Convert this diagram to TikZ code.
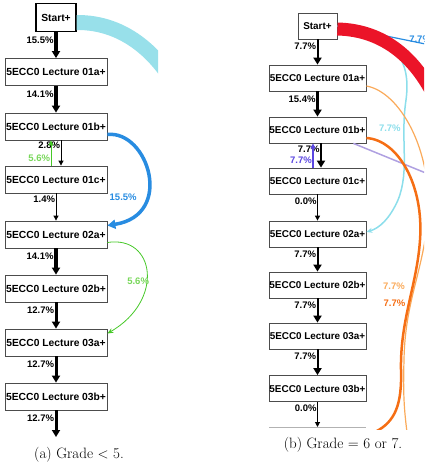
\documentclass[tikz,border=0pt]{standalone}
\usepackage{fontspec}
\setsansfont{Liberation Sans}
\usetikzlibrary{arrows.meta,calc}
\definecolor{skipcyan}{RGB}{152,224,234}
\definecolor{loopblue}{RGB}{40,140,225}
\definecolor{loopgreen}{RGB}{70,200,40}
\definecolor{lblgreen}{RGB}{120,215,90}
\definecolor{skipred}{RGB}{235,20,40}
\definecolor{thincyan}{RGB}{140,222,235}
\definecolor{lightorange}{RGB}{250,170,90}
\definecolor{darkorange}{RGB}{245,110,20}
\definecolor{lightpurple}{RGB}{175,160,225}
\definecolor{backviolet}{RGB}{90,70,225}
\tikzset{
  act/.style={draw=gray!60!black, fill=white, line width=0.8pt, minimum width=102pt, minimum height=27pt, inner sep=0pt, font=\sffamily\bfseries\fontsize{10.3}{12}\selectfont},
  actb/.style={act, minimum width=97pt, minimum height=26pt, font=\sffamily\bfseries\fontsize{9.9}{11}\selectfont},
  startbox/.style={minimum width=40pt, minimum height=28pt},
  pct/.style={font=\sffamily\bfseries\fontsize{9.5}{11}\selectfont, inner sep=0.5pt},
  flow/.style={-{Triangle[length=7pt,width=8pt]}},
  thinflow/.style={-{Triangle[length=5pt,width=5pt]}},
  capt/.style={font=\fontsize{15}{18}\selectfont, inner sep=0pt}
}
\begin{document}
\begin{tikzpicture}[x=1pt,y=-1pt]
\useasboundingbox (0,0) rectangle (424,463);
% (a) grade < 5
\node[act, startbox, draw=black, line width=1.2pt] (aStart) at (56,17.5) {Start+};
\node[act] (a01a) at (56,72) {5ECC0 Lecture 01a+};
\node[act] (a01b) at (56,126.5) {5ECC0 Lecture 01b+};
\node[act] (a01c) at (56,179.5) {5ECC0 Lecture 01c+};
\node[act] (a02a) at (56,234.5) {5ECC0 Lecture 02a+};
\node[act] (a02b) at (56,288.5) {5ECC0 Lecture 02b+};
\node[act] (a03a) at (56,342.5) {5ECC0 Lecture 03a+};
\node[act] (a03b) at (56,396.5) {5ECC0 Lecture 03b+};
\coordinate (aEnd) at (56,437);

\draw[flow, line width=4pt] (aStart) -- (a01a) node[pct, pos=0, anchor=north east, yshift=-2pt] {15.5\%};
\draw[flow, line width=4pt] (a01a) -- (a01b) node[pct, pos=0, anchor=north east, yshift=-2pt] {14.1\%};
\draw[thinflow, line width=0.8pt] ($(a01b.south)+(5,0)$) -- ($(a01c.north)+(5,0)$) node[pct, pos=0, anchor=north east, yshift=-1pt] {2.8\%};
\draw[thinflow, loopgreen, line width=0.8pt] ($(a01c.north)+(-5,0)$) -- ($(a01b.south)+(-5,0)$) node[pct, lblgreen, pos=0, anchor=south east, yshift=3pt] {5.6\%};
\draw[thinflow, line width=0.8pt] (a01c) -- (a02a) node[pct, pos=0, anchor=north east, yshift=-2pt] {1.4\%};
\draw[flow, line width=4pt] (a02a) -- (a02b) node[pct, pos=0, anchor=north east, yshift=-2pt] {14.1\%};
\draw[flow, line width=3pt] (a02b) -- (a03a) node[pct, pos=0, anchor=north east, yshift=-2pt] {12.7\%};
\draw[flow, line width=3pt] (a03a) -- (a03b) node[pct, pos=0, anchor=north east, yshift=-2pt] {12.7\%};
\draw[flow, line width=3pt] (a03b.south) -- (aEnd) node[pct, pos=0, anchor=north east, yshift=-2pt] {12.7\%};

\begin{scope}
\clip (0,0) rectangle (158,463);
\draw[skipcyan, line width=15pt] ($(aStart.east)+(0,5)$) .. controls (125,22) and (163,55) .. (185,105);
\end{scope}
\draw[loopblue, line width=3.5pt, -{Triangle[length=8pt,width=9pt]}] ($(a01b.east)+(0,8)$) .. controls (148,130) and (175,215) .. ($(a02a.east)+(0,-9)$)
  node[pct, loopblue, pos=0.7, anchor=east, xshift=-6pt, yshift=3pt] {15.5\%};
\draw[loopgreen, line width=0.8pt, -{Stealth[length=6pt,width=5pt]}] ($(a02a.east)+(0,8)$) .. controls (155,235) and (165,300) .. ($(a03a.east)+(0,-9)$)
  node[pct, lblgreen, pos=0.5, anchor=north east, xshift=3pt, yshift=-4pt] {5.6\%};

\node[capt] (capA) at (79,455) {(a) Grade $<$ 5.};

% (b) grade = 6 or 7
\node[actb, startbox, minimum width=39pt, minimum height=26pt] (bStart) at (317.5,26) {Start+};
\node[actb] (b01a) at (317.5,78) {5ECC0 Lecture 01a+};
\node[actb] (b01b) at (317.5,130) {5ECC0 Lecture 01b+};
\node[actb] (b01c) at (317.5,181) {5ECC0 Lecture 01c+};
\node[actb] (b02a) at (317.5,234) {5ECC0 Lecture 02a+};
\node[actb] (b02b) at (317.5,285) {5ECC0 Lecture 02b+};
\node[actb] (b03a) at (317.5,336) {5ECC0 Lecture 03a+};
\node[actb] (b03b) at (317.5,388.5) {5ECC0 Lecture 03b+};
\coordinate (bEnd) at (317.5,427);
\draw[gray!60, line width=1.2pt] ($(bEnd)+(-48.5,0.5)$) -- ($(bEnd)+(48.5,0.5)$);

\draw[flow, line width=2pt] (bStart) -- (b01a) node[pct, pos=0, anchor=north east, yshift=-2pt] {7.7\%};
\draw[flow, line width=3pt] (b01a) -- (b01b) node[pct, pos=0, anchor=north east, yshift=-2pt] {15.4\%};
\draw[flow, line width=2pt] ($(b01b.south)+(3.5,0)$) -- ($(b01c.north)+(3.5,0)$) node[pct, pos=0, anchor=north east, yshift=-1pt] {7.7\%};
\draw[thinflow, backviolet, line width=1.5pt] ($(b01c.north)+(-4.5,0)$) -- ($(b01b.south)+(-4.5,0)$) node[pct, backviolet, pos=0, anchor=south east, yshift=3pt] {7.7\%};
\draw[thinflow, line width=1pt] (b01c) -- (b02a) node[pct, pos=0, anchor=north east, yshift=-2pt] {0.0\%};
\draw[flow, line width=2pt] (b02a) -- (b02b) node[pct, pos=0, anchor=north east, yshift=-2pt] {7.7\%};
\draw[flow, line width=2pt] (b02b) -- (b03a) node[pct, pos=0, anchor=north east, yshift=-2pt] {7.7\%};
\draw[flow, line width=2pt] (b03a) -- (b03b) node[pct, pos=0, anchor=north east, yshift=-2pt] {7.7\%};
\draw[thinflow, line width=1pt] (b03b.south) -- (bEnd) node[pct, pos=0, anchor=north east, yshift=-2pt] {0.0\%};

\begin{scope}
\clip (212,0) rectangle (424,429);
\draw[loopblue, line width=1.2pt] (bStart.east) -- (440,47) node[pct, loopblue, pos=0.69, anchor=west, yshift=1pt] {7.7\%};
\draw[thincyan, line width=1.5pt, -{Stealth[length=6pt,width=5pt]}] (bStart.east) .. controls (390,35) and (412,55) .. (406,100)
  .. controls (400,140) and (410,170) .. (398,200) node[pct, thincyan, pos=0.25, anchor=east, xshift=-2pt] {7.7\%}
  .. controls (390,218) and (380,228) .. ($(b02a.east)+(0,-2)$);
\draw[skipred, line width=13pt] ($(bStart.east)+(0,3)$) .. controls (385,30) and (420,60) .. (440,110);
\draw[lightorange, line width=1.2pt] ($(b01a.east)+(0,8)$) .. controls (400,92) and (432,150) .. (428,215)
  .. controls (424,270) and (405,300) .. (404,360) node[pct, lightorange, pos=0.5, anchor=east, xshift=-9pt, yshift=-1pt] {7.7\%}
  .. controls (403,395) and (404,410) .. (408,440);
\draw[lightpurple, line width=1.5pt] ($(b01b.south east)+(-13,0)$) -- (460,187);
\draw[darkorange, line width=2.5pt] ($(b01b.east)+(0,8)$) .. controls (398,140) and (424,185) .. (420,240)
  .. controls (417,285) and (400,320) .. (401,370) node[pct, darkorange, pos=0.5, anchor=east, xshift=-2pt] {7.7\%}
  .. controls (402,405) and (395,422) .. (375,432);
\end{scope}

\node[capt] (capB) at (343,445) {(b) Grade $=$ 6 or 7.};
\end{tikzpicture}
\end{document}
